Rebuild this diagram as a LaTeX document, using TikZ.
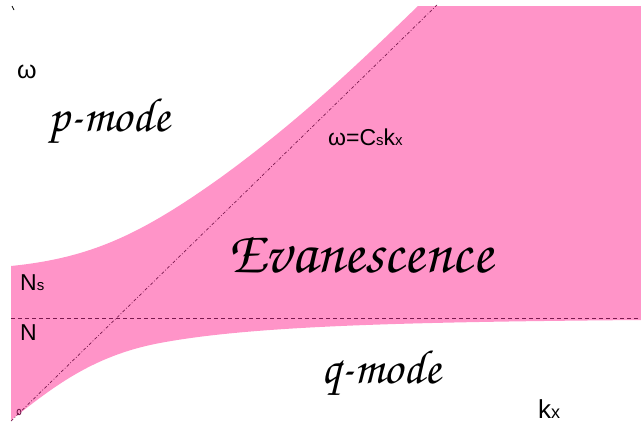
\documentclass[tikz,border=0pt]{standalone}
\usepackage{fontspec}
\usetikzlibrary{shapes.geometric}
\setmainfont{Liberation Sans}
\newfontfamily\chorusfont{texgyrechorus-mediumitalic.otf}
\definecolor{pinkfill}{HTML}{FF94C8}
\definecolor{lineplum}{HTML}{7A1A4E}
\tikzset{
  lbl/.style={inner sep=0pt, font=\fontsize{23}{24}\selectfont, text=black},
  scr/.style={inner sep=0pt, font=\chorusfont\fontsize{48}{50}\selectfont, text=black},
  guide/.style={draw=lineplum, line width=0.7pt},
}
\begin{document}
\begin{tikzpicture}[x=1pt,y=-1pt]
\useasboundingbox (0,0) rectangle (641,423);
% evanescent region
\fill[pinkfill] (11,266) .. controls (90,258) and (140,235) .. (220,178)
  .. controls (300,120) and (360,62) .. (418,6)
  -- (641,6) -- (641,320)
  .. controls (400,322) and (250,326) .. (160,343)
  .. controls (90,356) and (50,390) .. (11,420) -- cycle;
% guides
\coordinate (hl) at (11,318);
\coordinate (hr) at (641,318);
\coordinate (o) at (11,421);
\coordinate (t) at (437,5);
\draw[guide, dash pattern=on 4pt off 3pt] (hl) -- (hr);
\draw[guide, dash pattern=on 3pt off 2pt on 0.8pt off 2pt] (o) -- (t);
\node[draw=lineplum, line width=0.9pt, ellipse, minimum width=4pt, minimum height=5.5pt, inner sep=0pt] (oc) at (19,412) {};
\coordinate (tk1) at (12,6);
\coordinate (tk2) at (14,10);
\draw[line width=0.8pt] (tk1) -- (tk2);
% labels
\node[lbl, font=\fontsize{25}{26}\selectfont] (om) at (27,72) {ω};
\node[lbl, anchor=base west] (ns) at (20,290) {N\fontsize{15}{16}\selectfont s};
\node[lbl, anchor=base west] (n) at (20,340) {N};
\node[lbl, anchor=base west] (disp) at (328,145) {ω=C{\fontsize{15}{16}\selectfont s}k{\fontsize{15}{16}\selectfont x}};
\node[lbl, anchor=base west, font=\fontsize{26}{28}\selectfont] (kx) at (538,418) {k{\fontsize{18}{18}\selectfont x}};
\node[scr] (pm) at (109,121) {p-mode};
\node[scr] (qm) at (381,373) {q-mode};
\node[scr, font=\chorusfont\fontsize{60}{62}\selectfont] (ev) at (360,255) {Evanescence};
\end{tikzpicture}
\end{document}
